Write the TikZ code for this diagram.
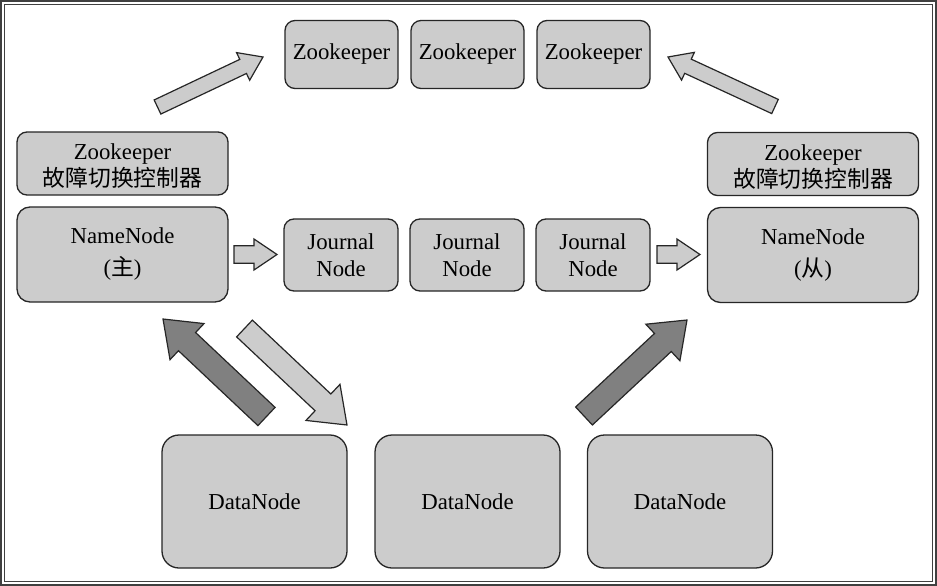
\documentclass[tikz,border=0pt]{standalone}
\usepackage{fontspec}
\setmainfont{Liberation Serif}
\newfontfamily\cjk{Noto Sans CJK SC}
\usetikzlibrary{calc}

\definecolor{boxfill}{HTML}{CCCCCC}
\definecolor{darkfill}{HTML}{808080}
\definecolor{edgeclr}{HTML}{262626}
\definecolor{frameclr}{HTML}{404040}

\tikzset{
  box/.style={draw=edgeclr, line width=1.3pt, fill=boxfill, rounded corners=10pt,
    align=center, inner sep=0pt, font=\fontsize{22.8}{27}\selectfont},
  zkbox/.style={box, minimum width=113pt, minimum height=68pt},
  fcbox/.style={box, minimum width=211pt, minimum height=63pt},
  nnbox/.style={box, rounded corners=13pt, minimum width=211pt, minimum height=95pt},
  jnbox/.style={box, minimum width=114pt, minimum height=72pt},
  dnbox/.style={box, rounded corners=17pt, minimum width=185pt, minimum height=133pt},
  lightarrow/.style={draw=edgeclr, line width=1.2pt, line join=miter, fill=boxfill},
  darkarrow/.style={draw=edgeclr, line width=1.2pt, line join=miter, fill=darkfill},
}

% taller first line, so that two-line labels sit a little lower in their box
\newcommand\toproom{\rule{0pt}{21.5pt}}

% block arrow: #1 style, #2 tail, #3 tip, #4 half shaft width, #5 half head width, #6 head length
\newcommand\blockarrow[6]{%
  \coordinate (#2-base) at ($(#3)!#6!(#2)$);
  \draw[#1] ($(#2)!#4!90:(#3)$) -- ($(#2-base)!#4!90:(#3)$)
    -- ($(#2-base)!#5!90:(#3)$) -- (#3) -- ($(#2-base)!#5!-90:(#3)$)
    -- ($(#2-base)!#4!-90:(#3)$) -- ($(#2)!#4!-90:(#3)$) -- cycle;
}

\begin{document}
\begin{tikzpicture}[x=1pt, y=-1pt]
  \useasboundingbox (0,0) rectangle (937,586);
  \fill[white] (0,0) rectangle (937,586);

  % double frame
  \draw[frameclr, line width=2pt] (1,1) rectangle (936,585);
  \draw[frameclr, line width=1.2pt] (4.5,4.5) rectangle (932.5,581.5);

  % Zookeeper ensemble
  \node[zkbox] (zk1) at (341.5,54.5) {Zookeeper};
  \node[zkbox] (zk2) at (467.5,54.5) {Zookeeper};
  \node[zkbox] (zk3) at (593.5,54.5) {Zookeeper};

  % failover controllers
  \node[fcbox] (fcl) at (122.5,163.5) {\toproom Zookeeper\\{\cjk 故障切换控制器}};
  \node[fcbox] (fcr) at (813,164) {\toproom Zookeeper\\{\cjk 故障切换控制器}};

  % NameNodes
  \node[nnbox] (nnl) at (122.5,254.5) {NameNode\\[5pt]({\cjk 主})};
  \node[nnbox] (nnr) at (813,255) {NameNode\\[5pt]({\cjk 从})};

  % JournalNodes
  \node[jnbox] (jn1) at (341,255) {Journal\\Node};
  \node[jnbox] (jn2) at (467,255) {Journal\\Node};
  \node[jnbox] (jn3) at (593,255) {Journal\\Node};

  % DataNodes
  \node[dnbox] (dn1) at (254.5,501.5) {DataNode};
  \node[dnbox] (dn2) at (467.5,501.5) {DataNode};
  \node[dnbox] (dn3) at (680,501.5) {DataNode};

  % arrow end points
  \coordinate (zkl-t) at (157.5,107);   \coordinate (zkl-p) at (263,57);
  \coordinate (zkr-t) at (775,106.5);   \coordinate (zkr-p) at (668,57);
  \coordinate (jnl-t) at (234,254.5);   \coordinate (jnl-p) at (277,254.5);
  \coordinate (jnr-t) at (657,254.5);   \coordinate (jnr-p) at (700,254.5);
  \coordinate (upl-t) at (266.5,416.5); \coordinate (upl-p) at (163,319);
  \coordinate (dwn-t) at (244.5,328.5); \coordinate (dwn-p) at (347,425);
  \coordinate (upr-t) at (584,416);     \coordinate (upr-p) at (687,320);

  % arrows
  \blockarrow{lightarrow}{zkl-t}{zkl-p}{7.8pt}{15.3pt}{22pt}
  \blockarrow{lightarrow}{zkr-t}{zkr-p}{7.8pt}{15.3pt}{22pt}
  \blockarrow{lightarrow}{jnl-t}{jnl-p}{8.8pt}{15.5pt}{23pt}
  \blockarrow{lightarrow}{jnr-t}{jnr-p}{8.8pt}{15.5pt}{23pt}
  \blockarrow{darkarrow}{upl-t}{upl-p}{12.5pt}{24.8pt}{33pt}
  \blockarrow{lightarrow}{dwn-t}{dwn-p}{11.5pt}{24.8pt}{33pt}
  \blockarrow{darkarrow}{upr-t}{upr-p}{12.3pt}{25pt}{33pt}
\end{tikzpicture}
\end{document}
